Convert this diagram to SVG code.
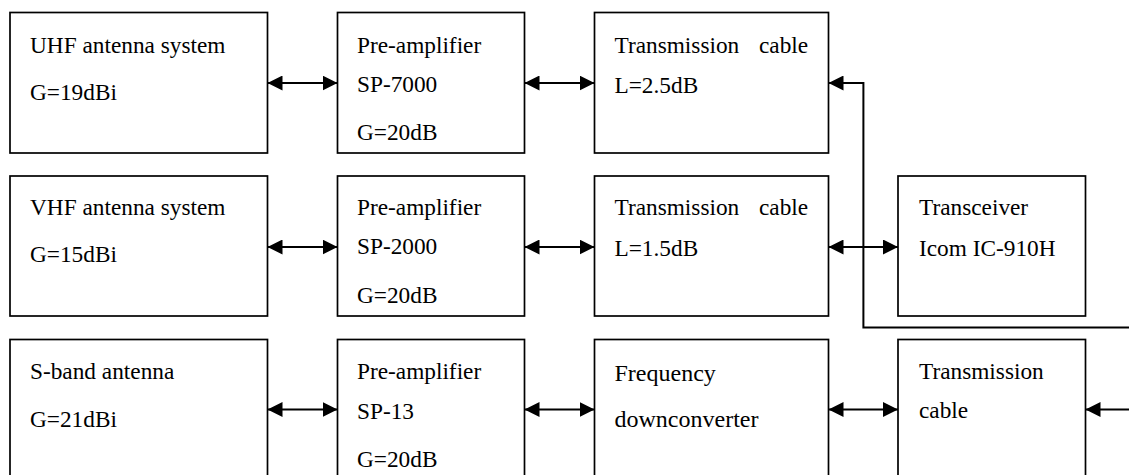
<svg xmlns="http://www.w3.org/2000/svg" width="1129" height="475" viewBox="0 0 1129 475">
<defs>
<style>
.box{fill:#fff;stroke:#000;stroke-width:1.7}
.t{font-family:"Liberation Serif","Times New Roman",serif;font-size:23.3px;fill:#000}
.tb{font-family:"Liberation Serif","Times New Roman",serif;font-size:24px;fill:#000}
.c{fill:none;stroke:#000;stroke-width:2}
</style>
<marker id="ah" markerUnits="userSpaceOnUse" markerWidth="15" markerHeight="15" viewBox="0 0 15 15" refX="15" refY="7.5" orient="auto-start-reverse"><path d="M0,0 L15,7.5 L0,15 z" fill="#000"/></marker>
</defs>
<rect width="1129" height="475" fill="#fff"/>

<g id="uhf-antenna"><rect class="box" x="10" y="12.5" width="257.5" height="140.5"/><text class="t" x="30" y="52.5">UHF antenna system</text><text class="t" x="30" y="100">G=19dBi</text></g>
<g id="preamp-7000"><rect class="box" x="337.5" y="12.5" width="187" height="140.5"/><text class="t" x="357" y="52.5">Pre-amplifier</text><text class="t" x="357" y="91.7">SP-7000</text><text class="t" x="357" y="140">G=20dB</text></g>
<g id="cable-uhf"><rect class="box" x="594.5" y="12.5" width="234" height="140.5"/><text class="t" x="614.5" y="52.5">Transmission<tspan x="759">cable</tspan></text><text class="t" x="614.5" y="92.5">L=2.5dB</text></g>

<g id="vhf-antenna"><rect class="box" x="10" y="176" width="257.5" height="140"/><text class="t" x="30" y="215">VHF antenna system</text><text class="t" x="30" y="261.7">G=15dBi</text></g>
<g id="preamp-2000"><rect class="box" x="337.5" y="176" width="187" height="140"/><text class="t" x="357" y="215">Pre-amplifier</text><text class="t" x="357" y="254">SP-2000</text><text class="t" x="357" y="303.3">G=20dB</text></g>
<g id="cable-vhf"><rect class="box" x="594.5" y="176" width="234" height="140"/><text class="t" x="614.5" y="215">Transmission<tspan x="759">cable</tspan></text><text class="t" x="614.5" y="256">L=1.5dB</text></g>
<g id="transceiver"><rect class="box" x="898" y="176" width="187.5" height="140"/><text class="t" x="919" y="215">Transceiver</text><text class="t" x="919" y="256">Icom IC-910H</text></g>

<g id="sband-antenna"><rect class="box" x="10" y="339.5" width="257.5" height="145"/><text class="t" x="30" y="379.3">S-band antenna</text><text class="t" x="30" y="426.7">G=21dBi</text></g>
<g id="preamp-13"><rect class="box" x="337.5" y="339.5" width="187" height="145"/><text class="t" x="357" y="379.3">Pre-amplifier</text><text class="t" x="357" y="419.3">SP-13</text><text class="t" x="357" y="467">G=20dB</text></g>
<g id="downconverter"><rect class="box" x="594.5" y="339.5" width="234" height="145"/><text class="tb" x="614.5" y="380.7">Frequency</text><text class="tb" x="614.5" y="426.7">downconverter</text></g>
<g id="cable-sband"><rect class="box" x="898" y="339.5" width="187.5" height="145"/><text class="t" x="919" y="379.3">Transmission</text><text class="t" x="919" y="418.3">cable</text></g>

<g id="connectors">
<line class="c" x1="267.5" y1="83" x2="337.5" y2="83" marker-start="url(#ah)" marker-end="url(#ah)"/>
<line class="c" x1="524.5" y1="83" x2="594.5" y2="83" marker-start="url(#ah)" marker-end="url(#ah)"/>
<polyline class="c" points="1129,327.5 863.4,327.5 863.4,83 828.5,83" marker-end="url(#ah)"/>
<line class="c" x1="267.5" y1="247" x2="337.5" y2="247" marker-start="url(#ah)" marker-end="url(#ah)"/>
<line class="c" x1="524.5" y1="247" x2="594.5" y2="247" marker-start="url(#ah)" marker-end="url(#ah)"/>
<line class="c" x1="828.5" y1="247" x2="898" y2="247" marker-start="url(#ah)" marker-end="url(#ah)"/>
<line class="c" x1="267.5" y1="409.5" x2="337.5" y2="409.5" marker-start="url(#ah)" marker-end="url(#ah)"/>
<line class="c" x1="524.5" y1="409.5" x2="594.5" y2="409.5" marker-start="url(#ah)" marker-end="url(#ah)"/>
<line class="c" x1="828.5" y1="409.5" x2="898" y2="409.5" marker-start="url(#ah)" marker-end="url(#ah)"/>
<line class="c" x1="1129" y1="409.5" x2="1085.5" y2="409.5" marker-end="url(#ah)"/>
</g>
</svg>
